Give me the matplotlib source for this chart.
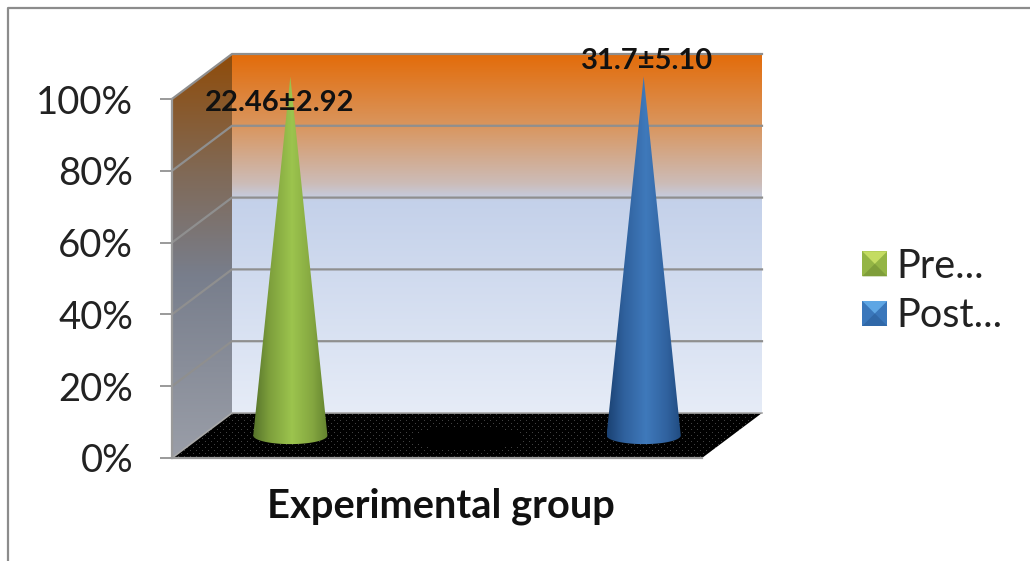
import numpy as np
import matplotlib
matplotlib.use("Agg")
from matplotlib import pyplot as plt
from matplotlib.colors import LinearSegmentedColormap
from matplotlib.legend_handler import HandlerPatch
from matplotlib.lines import Line2D
from matplotlib.patches import Patch, Polygon

# Data
categories = ["Experimental group"]
series_names = ["Pre...", "Post..."]
pre_share = [100]
post_share = [100]
pre_label = "22.46±2.92"
post_label = "31.7±5.10"
y_ticks = [0, 20, 40, 60, 80, 100]
y_tick_labels = ["0%", "20%", "40%", "60%", "80%", "100%"]

plt.rcParams["font.family"] = ["Lato", "DejaVu Sans"]

W, H = 1030, 561
fig = plt.figure(figsize=(W / 100, H / 100), dpi=100)
ax = fig.add_axes([172 / W, 1 - 458 / H, 530 / W, 359 / H])
ax.set_xlim(0, 1)
ax.set_ylim(0, 100)
ax.set_facecolor("none")

# depth of the 3D box, in data units
DX = 60 / 530
DY = 45 / 359 * 100
GRID = "#8f8f8f"

wall_cmap = LinearSegmentedColormap.from_list("wall", [
    (0, "#e36c0a"), (0.2, "#d9965f"), (0.36, "#ccbcb8"),
    (0.41, "#c4d1ea"), (1, "#e6ecf7")])
side_cmap = LinearSegmentedColormap.from_list("side", [
    (0, "#8f4c0a"), (0.3, "#806a58"), (0.55, "#787e8c"), (1, "#9a9ea8")])
green_cmap = LinearSegmentedColormap.from_list("green", [
    (0, "#56732a"), (0.22, "#7d9f3c"), (0.52, "#9cc44e"), (0.8, "#84a640"), (1, "#62822e")])
blue_cmap = LinearSegmentedColormap.from_list("blue", [
    (0, "#1a4172"), (0.22, "#2f609c"), (0.52, "#3f79bb"), (0.8, "#30629f"), (1, "#1f4a7e")])


def clipped_image(arr, extent, cmap, outline, zorder, vmin=0, vmax=1):
    im = ax.imshow(arr, extent=extent, cmap=cmap, aspect="auto", vmin=vmin,
                   vmax=vmax, zorder=zorder, interpolation="bilinear")
    im.set_clip_box(fig.bbox)
    im.set_clip_path(Polygon(outline, closed=True, transform=ax.transData))
    return im


# back wall
grad = np.linspace(0, 1, 256).reshape(-1, 1)
clipped_image(grad, (DX, 1 + DX, DY, 100 + DY), wall_cmap,
              [(DX, DY), (1 + DX, DY), (1 + DX, 100 + DY), (DX, 100 + DY)], 1)

# side wall
clipped_image(grad, (0, DX, 0, 100 + DY), side_cmap,
              [(0, 0), (DX, DY), (DX, 100 + DY), (0, 100)], 1)

# floor, black with a faint dot texture and a darker spot in the middle
floor = np.zeros((45, 590))
floor[1::6, 0::6] = 0.26
floor[4::6, 3::6] = 0.26
rows, cols = np.mgrid[0:45, 0:590]
floor[((cols - 295) / 55) ** 2 + ((rows - 25) / 12) ** 2 < 1] = 0
im = clipped_image(floor, (0, 1 + DX, 0, DY), "gray",
                   [(0, 0), (1, 0), (1 + DX, DY), (DX, DY)], 2)
im.set_interpolation("nearest")

# gridlines on the walls
for t in y_ticks[1:]:
    ax.plot([0, DX, 1 + DX], [t, t + DY, t + DY], color=GRID, lw=1.6,
            clip_on=False, zorder=3)
ax.plot([0, DX, 1 + DX], [0, DY, DY], color="#a8a8a8", lw=1.2, clip_on=False, zorder=3)


def cone(x_center, value, cmap, half_w=0.07):
    # cone stands half way into the depth of the box
    cx = x_center + DX / 2
    y0 = DY / 2
    apex = y0 + value
    t = np.linspace(np.pi, 2 * np.pi, 60)
    ell_x = cx + half_w * np.cos(t)
    ell_y = y0 + 2.4 * np.sin(t)
    outline = list(zip(ell_x, ell_y)) + [(cx, apex)]
    shade = np.linspace(0, 1, 256).reshape(1, -1)
    clipped_image(shade, (cx - half_w, cx + half_w, y0 - 3, apex), cmap, outline, 4)


cone(1 / 6, pre_share[0], green_cmap)
cone(5 / 6, post_share[0], blue_cmap)

# data labels
ax.text(1 / 6 + 0.037, 98.8, pre_label, ha="center", va="center", fontsize=21,
        fontweight="bold", color="#111111", zorder=5)
ax.text(5 / 6 + 0.063, 110.6, post_label, ha="center", va="center", fontsize=21,
        fontweight="bold", color="#111111", zorder=5)

# axes
for s in ["top", "right"]:
    ax.spines[s].set_visible(False)
for s in ["left", "bottom"]:
    ax.spines[s].set_color("#9a9a9a")
    ax.spines[s].set_linewidth(1.6)
    ax.spines[s].set_zorder(3)
ax.set_yticks(y_ticks)
ax.set_yticklabels(y_tick_labels, fontsize=27.5, color="#222222")
ax.tick_params(axis="y", length=9, width=1.4, color="#9a9a9a", pad=19)
ax.set_xticks([0.507])
ax.set_xticklabels(categories, fontsize=28.7, fontweight="bold", color="#111111")
ax.tick_params(axis="x", length=0, pad=21)


class BevelHandler(HandlerPatch):
    # legend key drawn as a small bevelled square
    def create_artists(self, legend, orig_handle, xd, yd, width, height, fontsize, trans):
        s = 18
        x0 = -xd + (width - s) / 2
        y0 = -yd + (height - s) / 2
        x1, y1 = x0 + s, y0 + s
        mx, my = x0 + s / 2, y0 + s * 0.5
        light, mid, dark = orig_handle.bevel
        parts = [
            ([(x0, y0), (x1, y0), (x1, y1), (x0, y1)], mid),
            ([(x0, y0), (x1, y0), (mx, my)], dark),
            ([(x0, y1), (x1, y1), (mx, my)], light),
        ]
        return [Polygon(p, closed=True, facecolor=c, edgecolor="none", transform=trans)
                for p, c in parts]


pre_key = Patch(label=series_names[0])
pre_key.bevel = ("#c4dc62", "#94b545", "#7f9e3a")
post_key = Patch(label=series_names[1])
post_key.bevel = ("#5ea6e4", "#3a77bb", "#3068a8")
fig.legend(handles=[pre_key, post_key], loc="center left",
           bbox_to_anchor=(856 / W, 1 - 291 / H), frameon=False, fontsize=28.5,
           labelcolor="#222222", handlelength=0.95, handletextpad=0.07, labelspacing=0.32,
           borderpad=0, borderaxespad=0,
           handler_map={Patch: BevelHandler()})

# outer chart frame
fig.add_artist(Line2D([8 / W, 8 / W, 1], [0, 1 - 8 / H, 1 - 8 / H], color="#8c8c8c",
                      lw=1.6, transform=fig.transFigure))

fig.savefig("out.png", dpi=100)
